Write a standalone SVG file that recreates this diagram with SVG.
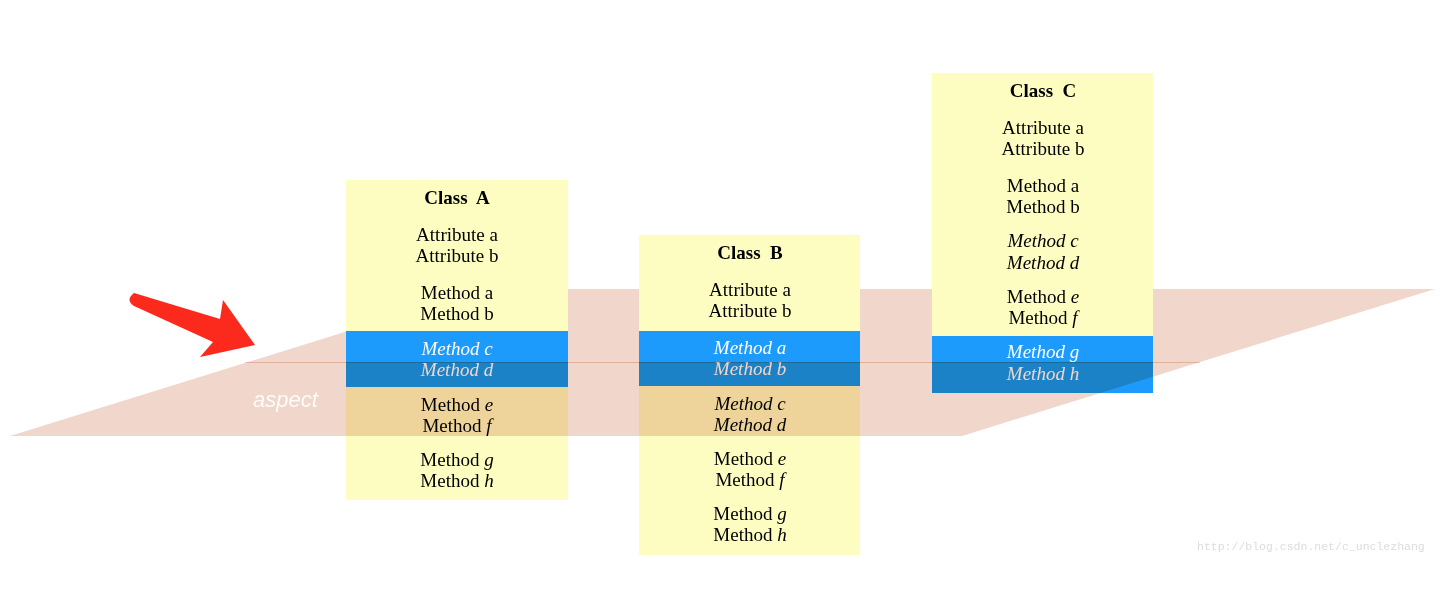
<svg xmlns="http://www.w3.org/2000/svg" width="1450" height="590" viewBox="0 0 1450 590">
<style>
.box{fill:#fdfdc1}
.band{fill:#1c9bfc}
.t{font-family:"Liberation Serif","Times New Roman",serif;font-size:19px;fill:#000;text-anchor:middle}
.b{font-weight:bold;white-space:pre}
.i{font-style:italic}
.w{fill:#fff}
.plane{fill:#f0d6cb}
.aspect{font-family:"Liberation Sans",Arial,sans-serif;font-style:italic;font-size:22px;fill:#fff}
.wm{font-family:"Liberation Mono","Courier New",monospace;font-size:11.5px;fill:#dcdcdc}
</style>
<defs>
<clipPath id="lower"><rect x="0" y="362" width="1450" height="228"/></clipPath>
<clipPath id="upper"><rect x="0" y="0" width="1450" height="362"/></clipPath>
</defs>
<rect width="1450" height="590" fill="#fff"/>
<polygon id="plane" class="plane" clip-path="url(#upper)" points="10,436 962,436 1435,289 483,289"/>
<g id="classA">
<rect class="box" x="346" y="180" width="222" height="320"/>
<rect class="band" x="346" y="331" width="222" height="56"/>
<text class="t b" x="457" y="204">Class  A</text>
<text class="t" x="457" y="241">Attribute a</text>
<text class="t" x="457" y="262">Attribute b</text>
<text class="t" x="457" y="299">Method a</text>
<text class="t" x="457" y="320">Method b</text>
<text class="t i w" x="457" y="355">Method c</text>
<text class="t i w" x="457" y="376">Method d</text>
<text class="t" x="457" y="411">Method <tspan class="i">e</tspan></text>
<text class="t" x="457" y="432">Method <tspan class="i">f</tspan></text>
<text class="t" x="457" y="466">Method <tspan class="i">g</tspan></text>
<text class="t" x="457" y="487">Method <tspan class="i">h</tspan></text>
</g>
<g id="classB">
<rect class="box" x="639" y="235" width="221" height="320"/>
<rect class="band" x="639" y="331" width="221" height="55"/>
<text class="t b" x="750" y="259">Class  B</text>
<text class="t" x="750" y="296">Attribute a</text>
<text class="t" x="750" y="317">Attribute b</text>
<text class="t i w" x="750" y="354">Method a</text>
<text class="t i w" x="750" y="375">Method b</text>
<text class="t i" x="750" y="410">Method c</text>
<text class="t i" x="750" y="431">Method d</text>
<text class="t" x="750" y="465">Method <tspan class="i">e</tspan></text>
<text class="t" x="750" y="486">Method <tspan class="i">f</tspan></text>
<text class="t" x="750" y="520">Method <tspan class="i">g</tspan></text>
<text class="t" x="750" y="541">Method <tspan class="i">h</tspan></text>
</g>
<g id="classC">
<rect class="box" x="932" y="73" width="221" height="320"/>
<rect class="band" x="932" y="336" width="221" height="57"/>
<text class="t b" x="1043" y="97">Class  C</text>
<text class="t" x="1043" y="134">Attribute a</text>
<text class="t" x="1043" y="155">Attribute b</text>
<text class="t" x="1043" y="192">Method a</text>
<text class="t" x="1043" y="213">Method b</text>
<text class="t i" x="1043" y="247">Method c</text>
<text class="t i" x="1043" y="269">Method d</text>
<text class="t" x="1043" y="303">Method <tspan class="i">e</tspan></text>
<text class="t" x="1043" y="324">Method <tspan class="i">f</tspan></text>
<text class="t i w" x="1043" y="358">Method g</text>
<text class="t i w" x="1043" y="380">Method h</text>
</g>
<g id="plane-front">
<polygon class="plane" clip-path="url(#lower)" style="mix-blend-mode:multiply" points="10,436 962,436 1435,289 483,289"/>
<line x1="245" y1="362.5" x2="1200" y2="362.5" stroke="#f2cfc4" stroke-width="1" style="mix-blend-mode:multiply"/>
<text class="aspect" x="253" y="407" fill-opacity="0.9">aspect</text>
</g>
<g id="connectors">
<path d="M134,293 L220,319 L223,300 L255,345 L200,357 L213,342 L134,306 Q125,300 134,293 Z" fill="#fb2a1c"/>
</g>
<text class="wm" x="1197" y="550">http://blog.csdn.net/c_unclezhang</text>
</svg>
